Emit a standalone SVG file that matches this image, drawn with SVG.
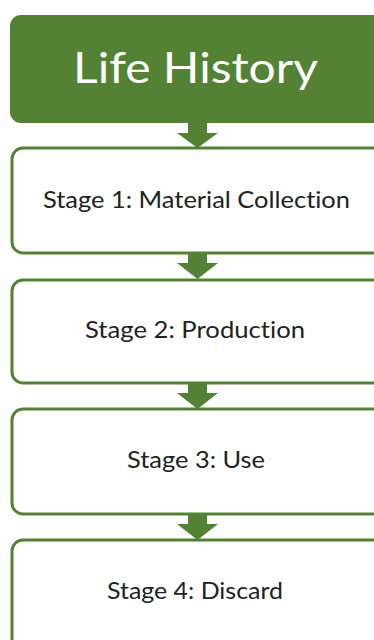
<svg xmlns="http://www.w3.org/2000/svg" width="374" height="640" viewBox="0 0 374 640">
<style>
text{font-variant-ligatures:none;font-feature-settings:"liga" 0,"clig" 0}
.box{fill:#ffffff;stroke:#548235;stroke-width:3}
.lbl{font-family:Lato,"Open Sans","Liberation Sans",sans-serif;font-size:24px;fill:#222222;text-anchor:middle}
.arr{fill:#548235}
</style>
<rect width="374" height="640" fill="#ffffff"/>
<g id="header">
<rect x="10" y="15" width="400" height="108" rx="11" fill="#548235"/>
<text x="195.5" y="83" font-family="Lato,'Open Sans','Liberation Sans',sans-serif" font-size="43" fill="#ffffff" text-anchor="middle" textLength="245" lengthAdjust="spacingAndGlyphs">Life History</text>
</g>
<g id="stage1">
<rect class="box" x="12" y="148" width="400" height="105" rx="11"/>
<text class="lbl" x="196.5" y="208" textLength="307" lengthAdjust="spacingAndGlyphs">Stage 1: Material Collection</text>
</g>
<g id="stage2">
<rect class="box" x="12" y="280" width="400" height="103" rx="11"/>
<text class="lbl" x="195" y="337.5" textLength="220" lengthAdjust="spacingAndGlyphs">Stage 2: Production</text>
</g>
<g id="stage3">
<rect class="box" x="12" y="409" width="400" height="105" rx="11"/>
<text class="lbl" x="196" y="468" textLength="138" lengthAdjust="spacingAndGlyphs">Stage 3: Use</text>
</g>
<g id="stage4">
<rect class="box" x="12" y="540" width="400" height="120" rx="11"/>
<text class="lbl" x="195" y="598.5" textLength="176" lengthAdjust="spacingAndGlyphs">Stage 4: Discard</text>
</g>
<g id="connectors">
<polygon class="arr" points="188,122 207,122 207,133 218,133 197.5,148 177,133 188,133"/>
<polygon class="arr" points="188,253 207,253 207,263 218,263 197.5,279 177,263 188,263"/>
<polygon class="arr" points="188,383 207,383 207,393 218,393 197.5,409 177,393 188,393"/>
<polygon class="arr" points="188,514 207,514 207,524 218,524 197.5,540 177,524 188,524"/>
</g>
</svg>
